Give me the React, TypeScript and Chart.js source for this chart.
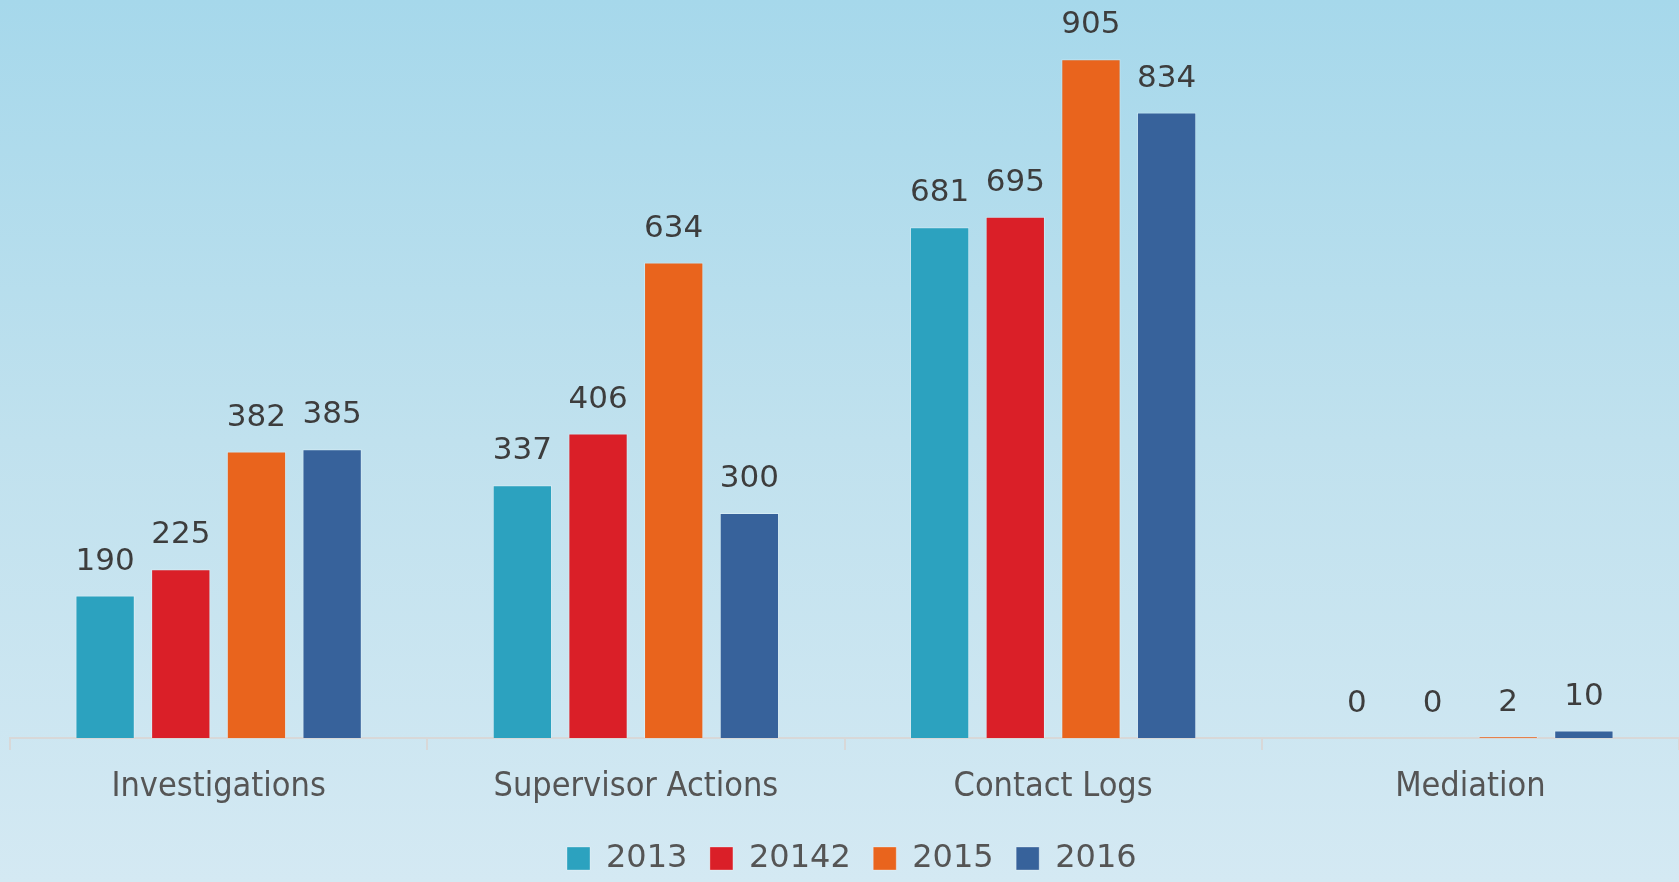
import React, { useEffect, useRef } from "react";
import { Chart, registerables } from "chart.js";

Chart.register(...registerables);

const categories = ["Investigations", "Supervisor Actions", "Contact Logs", "Mediation"];
const seriesNames = ["2013", "20142", "2015", "2016"];
const values2013 = [190, 337, 681, 0];
const values2014 = [225, 406, 695, 0];
const values2015 = [382, 634, 905, 2];
const values2016 = [385, 300, 834, 10];
const seriesColors = ["#2ca2bf", "#da1f28", "#e9641d", "#37629b"];
const yMin = 0;
const yMax = 984;

const valueLabels = {
  id: "valueLabels",
  afterDatasetsDraw(chart: any) {
    const ctx = chart.ctx;
    ctx.save();
    ctx.font = "31px 'DejaVu Sans', sans-serif";
    ctx.fillStyle = "#3d3d3d";
    ctx.textAlign = "center";
    ctx.textBaseline = "alphabetic";
    chart.data.datasets.forEach((ds: any, i: number) => {
      const meta = chart.getDatasetMeta(i);
      meta.data.forEach((el: any, j: number) => {
        ctx.fillText(String(ds.data[j]), el.x, el.y - 26);
      });
    });
    ctx.restore();
  },
};

const legendPlacer = {
  id: "legendPlacer",
  afterLayout(chart: any) {
    const lg = chart.legend;
    if (!lg || !lg.lineWidths) return;
    const pad = lg.options.labels.padding;
    const fontSize = lg.options.labels.font.size;
    const boxH = lg.options.labels.boxHeight;
    const curX = (lg.left + pad + lg.right - lg.lineWidths[0]) / 2;
    const dx = 567 - curX;
    lg.left += dx;
    lg.right += dx;
    const itemY = 847 - (fontSize - boxH) / 2;
    const dy = itemY - pad - lg.top;
    lg.top += dy;
    lg.bottom += dy;
  },
};

export default function App() {
  const ref = useRef<HTMLCanvasElement | null>(null);

  useEffect(() => {
    if (!ref.current) return;
    const allValues = [values2013, values2014, values2015, values2016];
    const chart = new Chart(ref.current, {
      type: "bar",
      data: {
        labels: categories,
        datasets: seriesNames.map((name, i) => ({
          label: name,
          data: allValues[i],
          backgroundColor: seriesColors[i],
          borderColor: "rgba(255,255,255,0.3)",
          borderWidth: 1,
          categoryPercentage: 0.7254,
          barPercentage: 0.784,
        })),
      },
      options: {
        responsive: false,
        animation: false,
        events: [],
        layout: { padding: { left: 10, right: 0, top: 0, bottom: 0 } },
        plugins: {
          tooltip: { enabled: false },
          legend: {
            display: true,
            position: "bottom",
            labels: {
              boxWidth: 23,
              boxHeight: 23,
              padding: 22.5,
              color: "#555555",
              font: {
                family: "'DejaVu Sans', sans-serif",
                size: 32,
              },
            },
          },
        },
        scales: {
          x: {
            offset: true,
            grid: {
              display: true,
              offset: true,
              drawOnChartArea: false,
              drawTicks: true,
              tickLength: 12,
              color: "#d8d8d8",
              lineWidth: 2,
            },
            border: { display: true, color: "#d8d8d8", width: 2 },
            ticks: {
              color: "#555555",
              padding: 17,
              maxRotation: 0,
              autoSkip: false,
              font: {
                family: "'DejaVu Sans Condensed', 'DejaVu Sans', sans-serif",
                size: 34,
              },
            },
            afterFit(scale: any) {
              scale.height = 79.5;
            },
          },
          y: {
            display: false,
            min: yMin,
            max: yMax,
          },
        },
      },
      plugins: [valueLabels, legendPlacer],
    });
    return () => chart.destroy();
  }, []);

  return (
    <div
      style={{
        position: "fixed",
        left: 0,
        top: 0,
        width: 1679,
        height: 882,
        background: "linear-gradient(to bottom, #a6d8eb 0%, #c0e1ee 50%, #d4e9f3 100%)",
      }}
    >
      <canvas ref={ref} width={1679} height={882} style={{ display: "block" }} />
    </div>
  );
}
